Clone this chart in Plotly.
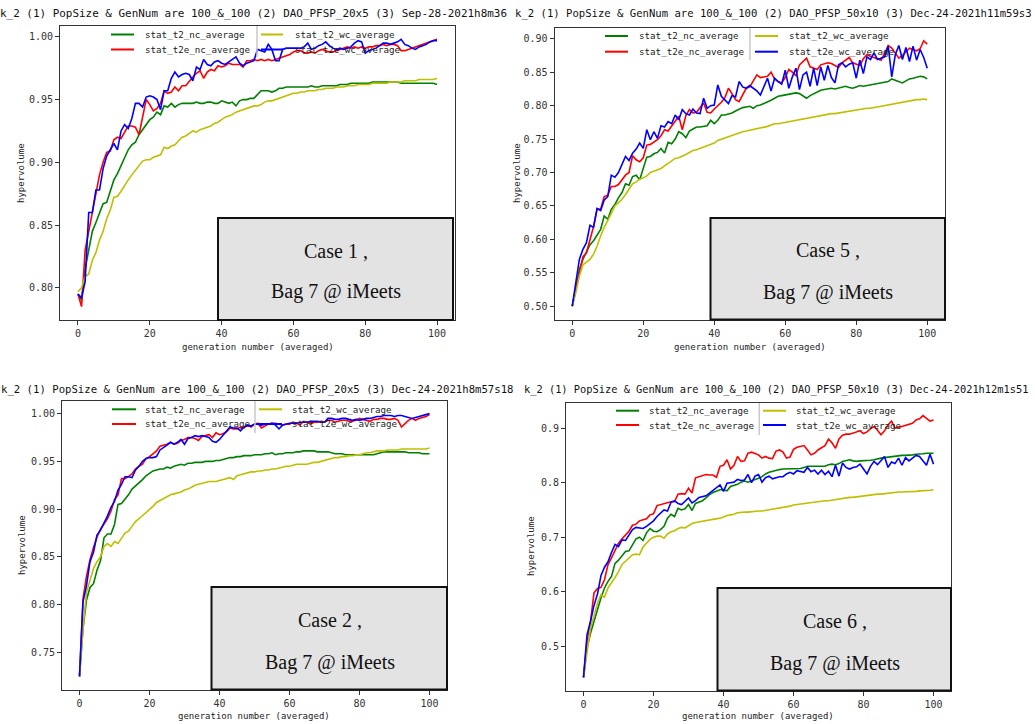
import plotly.graph_objects as go

W, H = 1035, 724
gens = list(range(101))

series_names = ["stat_t2_nc_average", "stat_t2e_nc_average",
                "stat_t2_wc_average", "stat_t2e_wc_average"]
series_colors = ["#008000", "#ff0000", "#bfbf00", "#0000ff"]

# ---------------- Case 1 (DAO_PFSP_20x5, Sep-28) ----------------
case1_t2_nc = [
    0.795, 0.790, 0.815, 0.830, 0.845, 0.852, 0.860, 0.867, 0.868, 0.878,
    0.886, 0.891, 0.897, 0.903, 0.910, 0.914, 0.916, 0.922, 0.926, 0.931,
    0.934, 0.936, 0.940, 0.938, 0.945, 0.944, 0.947, 0.944, 0.946, 0.947,
    0.947, 0.947, 0.947, 0.948, 0.947, 0.947, 0.948, 0.948, 0.947, 0.947,
    0.949, 0.948, 0.947, 0.948, 0.945, 0.949, 0.950, 0.950, 0.951, 0.951,
    0.954, 0.957, 0.957, 0.957, 0.956, 0.957, 0.959, 0.959, 0.960, 0.960,
    0.960, 0.960, 0.960, 0.960, 0.960, 0.961, 0.960, 0.960, 0.961, 0.961,
    0.961, 0.961, 0.961, 0.962, 0.962, 0.962, 0.963, 0.963, 0.963, 0.963,
    0.963, 0.963, 0.964, 0.964, 0.964, 0.964, 0.964, 0.964, 0.964, 0.964,
    0.963, 0.963, 0.963, 0.963, 0.963, 0.963, 0.963, 0.963, 0.963, 0.963, 0.962]
case1_t2e_nc = [
    0.795, 0.785, 0.830, 0.845, 0.862, 0.876, 0.890, 0.900, 0.908, 0.909,
    0.918, 0.920, 0.919, 0.924, 0.929, 0.929, 0.928, 0.922, 0.936, 0.950,
    0.946, 0.941, 0.943, 0.947, 0.957, 0.955, 0.956, 0.960, 0.957, 0.961,
    0.961, 0.965, 0.968, 0.971, 0.973, 0.967, 0.972, 0.974, 0.973, 0.977,
    0.976, 0.977, 0.979, 0.978, 0.978, 0.978, 0.976, 0.981, 0.981, 0.982,
    0.981, 0.982, 0.981, 0.982, 0.981, 0.982, 0.983, 0.984, 0.985, 0.986,
    0.988, 0.989, 0.989, 0.987, 0.987, 0.988, 0.987, 0.989, 0.990, 0.989,
    0.988, 0.988, 0.989, 0.990, 0.991, 0.992, 0.991, 0.992, 0.991, 0.992,
    0.991, 0.992, 0.992, 0.993, 0.993, 0.994, 0.993, 0.994, 0.994, 0.993,
    0.989, 0.989, 0.990, 0.991, 0.992, 0.993, 0.994, 0.995, 0.996, 0.997, 0.998]
case1_t2_wc = [
    0.797, 0.800, 0.809, 0.811, 0.822, 0.828, 0.838, 0.845, 0.855, 0.862,
    0.872, 0.873, 0.877, 0.882, 0.886, 0.890, 0.894, 0.897, 0.901, 0.902,
    0.902, 0.904, 0.905, 0.906, 0.912, 0.911, 0.913, 0.914, 0.917, 0.920,
    0.921, 0.923, 0.925, 0.924, 0.926, 0.927, 0.928, 0.929, 0.931, 0.932,
    0.934, 0.936, 0.937, 0.938, 0.940, 0.941, 0.942, 0.943, 0.944, 0.945,
    0.945, 0.946, 0.948, 0.949, 0.949, 0.950, 0.951, 0.952, 0.953, 0.954,
    0.955, 0.955, 0.956, 0.956, 0.957, 0.957, 0.957, 0.958, 0.958, 0.959,
    0.959, 0.959, 0.960, 0.960, 0.960, 0.961, 0.961, 0.961, 0.962, 0.962,
    0.962, 0.962, 0.963, 0.963, 0.963, 0.963, 0.963, 0.964, 0.964, 0.964,
    0.964, 0.965, 0.965, 0.965, 0.965, 0.966, 0.966, 0.966, 0.966, 0.966, 0.967]
case1_t2e_wc = [
    0.795, 0.792, 0.805, 0.860, 0.860, 0.878, 0.878, 0.895, 0.905, 0.910,
    0.915, 0.910, 0.925, 0.930, 0.927, 0.935, 0.947, 0.947, 0.944, 0.952,
    0.953, 0.952, 0.950, 0.942, 0.957, 0.957, 0.967, 0.972, 0.968, 0.970,
    0.971, 0.970, 0.965, 0.976, 0.974, 0.982, 0.978, 0.977, 0.980, 0.981,
    0.979, 0.978, 0.980, 0.982, 0.984, 0.979, 0.977, 0.979, 0.980, 0.981,
    0.990, 0.989, 0.988, 0.994, 0.990, 0.981, 0.981, 0.990, 0.991, 0.991,
    0.991, 0.991, 0.991, 0.992, 0.995, 0.990, 0.991, 0.993, 0.994, 0.996,
    0.993, 0.991, 0.990, 0.991, 0.990, 0.991, 0.992, 0.995, 0.997, 0.996,
    0.987, 0.989, 0.990, 0.991, 0.993, 0.995, 0.995, 0.994, 0.995, 0.996,
    0.998, 0.994, 0.993, 0.991, 0.990, 0.992, 0.993, 0.994, 0.996, 0.997, 0.997]

# ---------------- Case 5 (DAO_PFSP_50x10, Dec-24 h11) ----------------
case5_t2_nc = [
    0.500, 0.530, 0.555, 0.570, 0.580, 0.592, 0.598, 0.607, 0.615, 0.635,
    0.630, 0.645, 0.652, 0.662, 0.670, 0.683, 0.681, 0.694, 0.696, 0.689,
    0.705, 0.723, 0.724, 0.728, 0.730, 0.736, 0.729, 0.745, 0.743, 0.750,
    0.761, 0.758, 0.752, 0.762, 0.765, 0.768, 0.768, 0.769, 0.770, 0.778,
    0.773, 0.778, 0.786, 0.786, 0.787, 0.789, 0.792, 0.795, 0.797, 0.798,
    0.799, 0.796, 0.800, 0.801, 0.803, 0.806, 0.808, 0.811, 0.814, 0.815,
    0.816, 0.817, 0.819, 0.819, 0.818, 0.814, 0.811, 0.815, 0.818, 0.820,
    0.823, 0.824, 0.825, 0.826, 0.825, 0.826, 0.828, 0.829, 0.827, 0.826,
    0.828, 0.830, 0.829, 0.830, 0.830, 0.831, 0.833, 0.834, 0.834, 0.836,
    0.840, 0.838, 0.836, 0.834, 0.837, 0.840, 0.841, 0.843, 0.844, 0.843, 0.840]
case5_t2e_nc = [
    0.500, 0.525, 0.550, 0.574, 0.580, 0.600, 0.619, 0.646, 0.645, 0.664,
    0.666, 0.679, 0.679, 0.682, 0.690, 0.696, 0.700, 0.725, 0.719, 0.716,
    0.722, 0.741, 0.742, 0.745, 0.749, 0.755, 0.764, 0.762, 0.770, 0.776,
    0.784, 0.764, 0.785, 0.794, 0.789, 0.790, 0.797, 0.804, 0.790, 0.789,
    0.795, 0.800, 0.805, 0.812, 0.826, 0.818, 0.809, 0.806, 0.815, 0.826,
    0.828, 0.838, 0.846, 0.842, 0.843, 0.844, 0.850, 0.840, 0.836, 0.834,
    0.842, 0.854, 0.850, 0.845, 0.861, 0.866, 0.871, 0.858, 0.856, 0.854,
    0.861, 0.862, 0.864, 0.863, 0.860, 0.857, 0.864, 0.868, 0.872, 0.864,
    0.862, 0.860, 0.870, 0.876, 0.874, 0.872, 0.870, 0.868, 0.878, 0.890,
    0.886, 0.878, 0.871, 0.875, 0.880, 0.886, 0.884, 0.882, 0.885, 0.897, 0.892]
case5_t2_wc = [
    0.500, 0.520, 0.545, 0.562, 0.566, 0.570, 0.578, 0.590, 0.605, 0.618,
    0.628, 0.640, 0.650, 0.655, 0.660, 0.667, 0.675, 0.683, 0.686, 0.690,
    0.692, 0.695, 0.700, 0.702, 0.704, 0.706, 0.710, 0.714, 0.718, 0.721,
    0.722, 0.724, 0.727, 0.730, 0.733, 0.734, 0.736, 0.738, 0.740, 0.741,
    0.744, 0.748, 0.750, 0.752, 0.754, 0.756, 0.757, 0.759, 0.761, 0.762,
    0.763, 0.764, 0.766, 0.767, 0.768, 0.769, 0.771, 0.773, 0.773, 0.774,
    0.776, 0.777, 0.777, 0.778, 0.779, 0.780, 0.782, 0.783, 0.784, 0.785,
    0.786, 0.787, 0.787, 0.788, 0.788, 0.789, 0.790, 0.790, 0.791, 0.792,
    0.793, 0.794, 0.795, 0.796, 0.796, 0.797, 0.799, 0.800, 0.801, 0.802,
    0.803, 0.804, 0.805, 0.806, 0.807, 0.807, 0.808, 0.809, 0.809, 0.810, 0.809]
case5_t2e_wc = [
    0.500, 0.539, 0.570, 0.585, 0.595, 0.621, 0.618, 0.646, 0.643, 0.659,
    0.664, 0.696, 0.693, 0.700, 0.712, 0.724, 0.718, 0.729, 0.735, 0.744,
    0.736, 0.764, 0.749, 0.761, 0.751, 0.770, 0.768, 0.776, 0.773, 0.786,
    0.779, 0.794, 0.788, 0.786, 0.795, 0.789, 0.788, 0.811, 0.796, 0.800,
    0.801, 0.831, 0.814, 0.808, 0.803, 0.815, 0.813, 0.836, 0.828, 0.826,
    0.830, 0.826, 0.822, 0.816, 0.828, 0.841, 0.822, 0.841, 0.836, 0.832,
    0.853, 0.826, 0.843, 0.856, 0.824, 0.846, 0.850, 0.829, 0.856, 0.830,
    0.858, 0.838, 0.860, 0.842, 0.834, 0.861, 0.864, 0.858, 0.862, 0.864,
    0.841, 0.868, 0.848, 0.873, 0.869, 0.879, 0.869, 0.871, 0.873, 0.889,
    0.843, 0.876, 0.890, 0.869, 0.887, 0.866, 0.889, 0.868, 0.884, 0.872, 0.856]

# ---------------- Case 2 (DAO_PFSP_20x5, Dec-24 h8) ----------------
case2_t2_nc = [
    0.725, 0.775, 0.805, 0.818, 0.822, 0.836, 0.846, 0.870, 0.874, 0.874,
    0.884, 0.905, 0.906, 0.910, 0.915, 0.921, 0.924, 0.927, 0.931, 0.935,
    0.938, 0.940, 0.941, 0.942, 0.942, 0.944, 0.943, 0.945, 0.946, 0.947,
    0.946, 0.948, 0.948, 0.949, 0.949, 0.949, 0.950, 0.950, 0.950, 0.951,
    0.951, 0.952, 0.953, 0.954, 0.954, 0.955, 0.955, 0.956, 0.956, 0.956,
    0.957, 0.957, 0.957, 0.958, 0.958, 0.959, 0.957, 0.958, 0.958, 0.959,
    0.959, 0.959, 0.960, 0.960, 0.961, 0.961, 0.961, 0.961, 0.960, 0.960,
    0.960, 0.960, 0.959, 0.958, 0.958, 0.958, 0.957, 0.957, 0.957, 0.957,
    0.957, 0.957, 0.957, 0.957, 0.957, 0.958, 0.959, 0.960, 0.960, 0.960,
    0.960, 0.960, 0.960, 0.960, 0.959, 0.959, 0.959, 0.959, 0.958, 0.958, 0.958]
case2_t2e_nc = [
    0.725, 0.806, 0.830, 0.847, 0.860, 0.871, 0.879, 0.885, 0.890, 0.898,
    0.910, 0.915, 0.932, 0.932, 0.934, 0.937, 0.942, 0.945, 0.947, 0.953,
    0.955, 0.958, 0.961, 0.966, 0.967, 0.968, 0.970, 0.968, 0.969, 0.972,
    0.973, 0.975, 0.975, 0.974, 0.972, 0.976, 0.977, 0.978, 0.975, 0.980,
    0.978, 0.979, 0.981, 0.985, 0.984, 0.984, 0.986, 0.985, 0.988, 0.986,
    0.989, 0.990, 0.985, 0.987, 0.989, 0.990, 0.990, 0.989, 0.988, 0.989,
    0.989, 0.991, 0.990, 0.988, 0.992, 0.991, 0.989, 0.991, 0.991, 0.992,
    0.991, 0.993, 0.993, 0.991, 0.992, 0.993, 0.993, 0.992, 0.992, 0.993,
    0.995, 0.994, 0.993, 0.992, 0.994, 0.994, 0.995, 0.995, 0.994, 0.994,
    0.995, 0.993, 0.986, 0.990, 0.993, 0.995, 0.993, 0.995, 0.996, 0.997, 0.999]
case2_t2_wc = [
    0.725, 0.775, 0.813, 0.826, 0.838, 0.845, 0.850, 0.861, 0.864, 0.861,
    0.866, 0.864, 0.870, 0.875, 0.877, 0.882, 0.887, 0.890, 0.893, 0.897,
    0.900, 0.903, 0.907, 0.909, 0.911, 0.913, 0.915, 0.916, 0.917, 0.918,
    0.920, 0.921, 0.923, 0.925, 0.926, 0.927, 0.928, 0.929, 0.929, 0.929,
    0.930, 0.931, 0.932, 0.933, 0.931, 0.935, 0.936, 0.937, 0.938, 0.939,
    0.939, 0.940, 0.940, 0.941, 0.941, 0.942, 0.942, 0.943, 0.944, 0.945,
    0.945, 0.946, 0.947, 0.947, 0.947, 0.947, 0.948, 0.949, 0.949, 0.950,
    0.951, 0.952, 0.953, 0.954, 0.954, 0.955, 0.955, 0.956, 0.956, 0.957,
    0.957, 0.958, 0.959, 0.959, 0.960, 0.961, 0.961, 0.961, 0.962, 0.962,
    0.962, 0.962, 0.963, 0.963, 0.963, 0.963, 0.963, 0.963, 0.963, 0.963, 0.964]
case2_t2e_wc = [
    0.725, 0.803, 0.820, 0.845, 0.855, 0.873, 0.878, 0.885, 0.893, 0.902,
    0.908, 0.920, 0.926, 0.934, 0.934, 0.933, 0.941, 0.945, 0.950, 0.953,
    0.954, 0.954, 0.955, 0.962, 0.965, 0.967, 0.970, 0.968, 0.970, 0.973,
    0.968, 0.974, 0.975, 0.977, 0.976, 0.977, 0.976, 0.975, 0.971, 0.970,
    0.973, 0.977, 0.982, 0.986, 0.985, 0.985, 0.982, 0.986, 0.988, 0.987,
    0.989, 0.989, 0.988, 0.989, 0.989, 0.990, 0.988, 0.984, 0.988, 0.989,
    0.990, 0.990, 0.990, 0.991, 0.991, 0.991, 0.992, 0.992, 0.992, 0.991,
    0.991, 0.995, 0.995, 0.994, 0.994, 0.995, 0.995, 0.994, 0.993, 0.994,
    0.993, 0.994, 0.995, 0.995, 0.996, 0.997, 0.997, 0.998, 0.998, 0.998,
    0.997, 0.998, 0.998, 0.997, 0.996, 0.995, 0.996, 0.997, 0.998, 0.999, 1.000]

# ---------------- Case 6 (DAO_PFSP_50x10, Dec-24 h12) ----------------
case6_t2_nc = [
    0.443, 0.497, 0.524, 0.546, 0.570, 0.589, 0.607, 0.619, 0.628, 0.652,
    0.658, 0.665, 0.674, 0.675, 0.685, 0.697, 0.700, 0.694, 0.708, 0.716,
    0.711, 0.710, 0.714, 0.720, 0.735, 0.742, 0.738, 0.753, 0.750, 0.752,
    0.760, 0.749, 0.762, 0.765, 0.767, 0.772, 0.778, 0.782, 0.785, 0.787,
    0.787, 0.785, 0.793, 0.795, 0.797, 0.801, 0.803, 0.801, 0.803, 0.806,
    0.808, 0.811, 0.816, 0.819, 0.821, 0.823, 0.824, 0.825, 0.825, 0.825,
    0.825, 0.826, 0.826, 0.828, 0.830, 0.830, 0.830, 0.830, 0.829, 0.830,
    0.833, 0.834, 0.833, 0.835, 0.839, 0.841, 0.842, 0.840, 0.839, 0.840,
    0.840, 0.840, 0.841, 0.842, 0.844, 0.845, 0.846, 0.847, 0.848, 0.848,
    0.849, 0.850, 0.850, 0.850, 0.851, 0.852, 0.852, 0.853, 0.854, 0.854, 0.854]
case6_t2e_nc = [
    0.443, 0.509, 0.545, 0.598, 0.606, 0.608, 0.622, 0.650, 0.662, 0.676,
    0.689, 0.697, 0.705, 0.711, 0.722, 0.724, 0.730, 0.732, 0.734, 0.741,
    0.743, 0.758, 0.760, 0.762, 0.764, 0.765, 0.765, 0.779, 0.780, 0.779,
    0.790, 0.781, 0.809, 0.811, 0.812, 0.815, 0.814, 0.814, 0.810, 0.830,
    0.832, 0.842, 0.825, 0.832, 0.848, 0.839, 0.840, 0.854, 0.856, 0.854,
    0.851, 0.845, 0.848, 0.845, 0.844, 0.858, 0.860, 0.856, 0.845, 0.847,
    0.861, 0.865, 0.866, 0.868, 0.860, 0.851, 0.854, 0.860, 0.864, 0.868,
    0.880, 0.873, 0.863, 0.880, 0.887, 0.889, 0.889, 0.891, 0.893, 0.895,
    0.890, 0.893, 0.899, 0.903, 0.896, 0.888, 0.895, 0.906, 0.913, 0.900,
    0.901, 0.903, 0.904, 0.906, 0.909, 0.915, 0.917, 0.923, 0.918, 0.913, 0.915]
case6_t2_wc = [
    0.443, 0.491, 0.534, 0.555, 0.579, 0.595, 0.590, 0.607, 0.616, 0.626,
    0.637, 0.650, 0.656, 0.662, 0.668, 0.669, 0.668, 0.682, 0.689, 0.696,
    0.700, 0.702, 0.702, 0.698, 0.706, 0.710, 0.712, 0.716, 0.718, 0.717,
    0.721, 0.725, 0.727, 0.728, 0.729, 0.730, 0.731, 0.733, 0.734, 0.735,
    0.737, 0.740, 0.741, 0.742, 0.745, 0.746, 0.746, 0.746, 0.747, 0.747,
    0.748, 0.748, 0.749, 0.750, 0.751, 0.752, 0.754, 0.755, 0.756, 0.757,
    0.759, 0.760, 0.761, 0.762, 0.763, 0.764, 0.764, 0.765, 0.766, 0.767,
    0.767, 0.768, 0.769, 0.771, 0.771, 0.772, 0.773, 0.773, 0.774, 0.775,
    0.775, 0.776, 0.777, 0.778, 0.779, 0.779, 0.780, 0.781, 0.781, 0.782,
    0.783, 0.783, 0.783, 0.784, 0.784, 0.784, 0.785, 0.785, 0.786, 0.786, 0.787]
case6_t2e_wc = [
    0.443, 0.521, 0.546, 0.575, 0.596, 0.630, 0.645, 0.655, 0.672, 0.687,
    0.683, 0.695, 0.694, 0.705, 0.714, 0.718, 0.717, 0.716, 0.720, 0.725,
    0.730, 0.738, 0.744, 0.750, 0.748, 0.764, 0.767, 0.762, 0.760, 0.766,
    0.772, 0.763, 0.767, 0.773, 0.775, 0.776, 0.781, 0.786, 0.790, 0.796,
    0.784, 0.799, 0.800, 0.801, 0.806, 0.804, 0.805, 0.815, 0.800, 0.812,
    0.815, 0.801, 0.809, 0.812, 0.807, 0.809, 0.811, 0.811, 0.816, 0.819,
    0.816, 0.822, 0.820, 0.819, 0.828, 0.820, 0.823, 0.816, 0.823, 0.815,
    0.821, 0.811, 0.832, 0.812, 0.836, 0.828, 0.825, 0.828, 0.829, 0.834,
    0.825, 0.816, 0.830, 0.839, 0.833, 0.840, 0.848, 0.828, 0.838, 0.835,
    0.845, 0.832, 0.846, 0.840, 0.845, 0.850, 0.848, 0.840, 0.832, 0.852, 0.834]

x_ticks = [0, 20, 40, 60, 80, 100]
x_label = "generation number (averaged)"
y_label = "hypervolume"

# Panel layout in page pixels: plot frame, tick spacing, titles, legend, note box
panels = [
    dict(series=[case1_t2_nc, case1_t2e_nc, case1_t2_wc, case1_t2e_wc],
         frame=(60, 455, 26, 320), dtick=0.05, fmt=".2f",
         title="k_2 (1) PopSize & GenNum are 100_&_100 (2) DAO_PFSP_20x5 (3) Sep-28-2021h8m36",
         title_pos=(-2, 13), title_size=10.95,
         ylab_pos=(21, 173), xlab_pos=(257.5, 347),
         leg_cols=((111, 134, 143), (261, 283, 293)), leg_rows=(34.5, 49.5),
         leg_sep=(257, 26, 57),
         box=(218, 453, 218, 320), note=("Case 1 ,", "Bag 7 @ iMeets"),
         note_x=335.5, note_y=(250.5, 291.5)),
    dict(series=[case5_t2_nc, case5_t2e_nc, case5_t2_wc, case5_t2e_wc],
         frame=(554.5, 945, 27.5, 319.5), dtick=0.05, fmt=".2f",
         title="k_2 (1) PopSize & GenNum are 100_&_100 (2) DAO_PFSP_50x10 (3) Dec-24-2021h11m59s3",
         title_pos=(513, 13), title_size=10.6,
         ylab_pos=(517, 173), xlab_pos=(750, 347),
         leg_cols=((605, 628, 637), (755, 778, 787)), leg_rows=(36, 51.7),
         leg_sep=(750, 28, 60),
         box=(710.5, 945, 218, 319.5), note=("Case 5 ,", "Bag 7 @ iMeets"),
         note_x=828, note_y=(250, 292)),
    dict(series=[case2_t2_nc, case2_t2e_nc, case2_t2_wc, case2_t2e_wc],
         frame=(62, 447, 400.5, 689.5), dtick=0.05, fmt=".2f",
         title="k_2 (1) PopSize & GenNum are 100_&_100 (2) DAO_PFSP_20x5 (3) Dec-24-2021h8m57s18",
         title_pos=(-1, 389), title_size=10.65,
         ylab_pos=(22, 545), xlab_pos=(254, 716),
         leg_cols=((112, 136, 143), (259, 282, 290)), leg_rows=(409.3, 424),
         leg_sep=(255, 401, 433),
         box=(211.5, 447, 587, 689.5), note=("Case 2 ,", "Bag 7 @ iMeets"),
         note_x=329.5, note_y=(620, 662)),
    dict(series=[case6_t2_nc, case6_t2e_nc, case6_t2_wc, case6_t2e_wc],
         frame=(566, 951, 402.5, 690.5), dtick=0.1, fmt=".1f",
         title="k_2 (1) PopSize & GenNum are 100_&_100 (2) DAO_PFSP_50x10 (3) Dec-24-2021h12m1s51",
         title_pos=(522, 389), title_size=10.35,
         ylab_pos=(531, 546), xlab_pos=(758, 716),
         leg_cols=((616, 639, 647), (763, 786, 794)), leg_rows=(410.7, 425),
         leg_sep=(759.3, 403, 435),
         box=(717.5, 951, 588, 690.5), note=("Case 6 ,", "Bag 7 @ iMeets"),
         note_x=834.5, note_y=(621, 663)),
]

MONO = "DejaVu Sans Mono"
SERIF = "Liberation Serif"


def fx(p):
    return p / W


def fy(p):
    return 1 - p / H


def label(text, x, y, size, family=MONO, xanchor="center", angle=0,
          color="#222"):
    return dict(text=text, x=fx(x), y=fy(y), xref="paper", yref="paper",
                xanchor=xanchor, yanchor="middle", showarrow=False,
                textangle=angle,
                font=dict(family=family, size=size, color=color))


fig = go.Figure()
shapes, annotations = [], []
layout_axes = {}

for i, pnl in enumerate(panels, start=1):
    xa = "x" if i == 1 else f"x{i}"
    ya = "y" if i == 1 else f"y{i}"
    for vals, name, color in zip(pnl["series"], series_names, series_colors):
        fig.add_trace(go.Scatter(x=gens, y=vals, mode="lines", name=name,
                                 line=dict(color=color, width=1.6),
                                 xaxis=xa, yaxis=ya, showlegend=False,
                                 hoverinfo="skip"))

    allv = [v for s in pnl["series"] for v in s]
    lo, hi = min(allv), max(allv)
    pad = 0.05 * (hi - lo)
    l, r, t, b = pnl["frame"]
    common = dict(showline=True, mirror=True, linecolor="#333", linewidth=1,
                  ticks="outside", ticklen=4, tickwidth=1, tickcolor="#333",
                  showgrid=False, zeroline=False,
                  tickfont=dict(family=MONO, size=10, color="#333"))
    layout_axes["xaxis" if i == 1 else f"xaxis{i}"] = dict(
        domain=[fx(l), fx(r)], anchor=ya, range=[-5, 105],
        tickmode="array", tickvals=x_ticks, **common)
    layout_axes["yaxis" if i == 1 else f"yaxis{i}"] = dict(
        domain=[fy(b), fy(t)], anchor=xa, range=[lo - pad, hi + pad],
        tickmode="linear", tick0=0, dtick=pnl["dtick"],
        tickformat=pnl["fmt"], **common)

    # title line
    tx, ty = pnl["title_pos"]
    annotations.append(label(pnl["title"], tx, ty, pnl["title_size"],
                             xanchor="left", color="#111"))
    # axis titles
    lx, ly = pnl["ylab_pos"]
    annotations.append(label(y_label, lx, ly, 9, angle=-90))
    lx, ly = pnl["xlab_pos"]
    annotations.append(label(x_label, lx, ly, 9))

    # two-column legend: column 1 = nc series, column 2 = wc series
    order = [(0, 0), (0, 1), (1, 0), (1, 1)]
    for k, (c, rr) in enumerate(order):
        x0, x1, xt = pnl["leg_cols"][c]
        yy = pnl["leg_rows"][rr]
        shapes.append(dict(type="line", xref="paper", yref="paper",
                           x0=fx(x0), x1=fx(x1), y0=fy(yy), y1=fy(yy),
                           line=dict(color=series_colors[k], width=2)))
        annotations.append(label(series_names[k], xt, yy, 9.2,
                                 xanchor="left"))
    sx, sy0, sy1 = pnl["leg_sep"]
    shapes.append(dict(type="line", xref="paper", yref="paper",
                       x0=fx(sx), x1=fx(sx), y0=fy(sy0), y1=fy(sy1),
                       line=dict(color="#c8c8c8", width=1.5)))

    # gray note box
    bx0, bx1, by0, by1 = pnl["box"]
    shapes.append(dict(type="rect", xref="paper", yref="paper",
                       x0=fx(bx0), x1=fx(bx1), y0=fy(by1), y1=fy(by0),
                       fillcolor="#e3e3e3", line=dict(color="#111", width=2),
                       layer="above"))
    for txt, yy in zip(pnl["note"], pnl["note_y"]):
        annotations.append(label(txt, pnl["note_x"], yy, 20, family=SERIF,
                                 color="#111"))

fig.update_layout(width=W, height=H, autosize=False,
                  margin=dict(l=0, r=0, t=0, b=0),
                  paper_bgcolor="white", plot_bgcolor="white",
                  shapes=shapes, annotations=annotations, showlegend=False,
                  **layout_axes)

fig.write_html("out.html")
